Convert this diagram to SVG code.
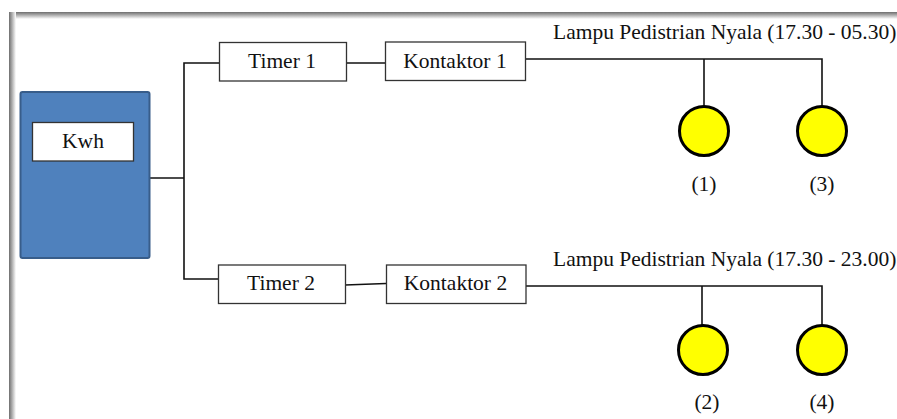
<svg xmlns="http://www.w3.org/2000/svg" width="897" height="419" viewBox="0 0 897 419">
<defs>
<linearGradient id="gTop" x1="0" y1="0" x2="0" y2="1"><stop offset="0" stop-color="#6e6e6e"/><stop offset="0.35" stop-color="#a0a0a0"/><stop offset="1" stop-color="#ffffff"/></linearGradient>
<linearGradient id="gLeft" x1="0" y1="0" x2="1" y2="0"><stop offset="0" stop-color="#6e6e6e"/><stop offset="0.35" stop-color="#a0a0a0"/><stop offset="1" stop-color="#ffffff"/></linearGradient>
<style>
.box{fill:#fff;stroke:#333;stroke-width:1.3}
.t{font-family:"Liberation Serif","Times New Roman",serif;font-size:21.5px;fill:#111}
.c{text-anchor:middle}
.w{fill:none;stroke:#111;stroke-width:1.6}
.lamp{fill:#FFFF00;stroke:#000;stroke-width:3}
</style>
</defs>
<rect width="897" height="419" fill="#fff"/>
<g id="frame">
<rect x="10" y="12" width="887" height="7" fill="url(#gTop)"/>
<rect x="9" y="12" width="7" height="407" fill="url(#gLeft)"/>
</g>
<g id="connectors">
<polyline class="w" points="150,178 184,178"/>
<polyline class="w" points="219,63 184,63 184,279 219,279"/>
<line class="w" x1="346" y1="63" x2="385" y2="63"/>
<line class="w" x1="345" y1="285" x2="386" y2="283.5"/>
<polyline class="w" points="525,59 822,59 822,107"/>
<line class="w" x1="704" y1="59" x2="704" y2="107"/>
<polyline class="w" points="526,286 822,286 822,326"/>
<line class="w" x1="702" y1="286" x2="702" y2="326"/>
</g>
<g id="kwh">
<rect x="20.5" y="92" width="129" height="166" rx="2" fill="#4F81BD" stroke="#385D8A" stroke-width="2"/>
<rect class="box" x="32.5" y="122.5" width="101" height="38.5"/>
<text class="t c" x="83" y="148">Kwh</text>
</g>
<g id="timer1">
<rect class="box" x="219.5" y="42.5" width="127" height="38.5"/>
<text class="t c" x="282" y="68">Timer 1</text>
</g>
<g id="kontaktor1">
<rect class="box" x="385.5" y="42" width="140" height="38.5"/>
<text class="t c" x="455" y="68">Kontaktor 1</text>
</g>
<g id="timer2">
<rect class="box" x="218.5" y="265" width="127" height="38.5"/>
<text class="t c" x="281" y="290">Timer 2</text>
</g>
<g id="kontaktor2">
<rect class="box" x="386.5" y="265" width="139.5" height="38.5"/>
<text class="t c" x="455.5" y="290">Kontaktor 2</text>
</g>
<g id="title1"><text class="t" x="553" y="39">Lampu Pedistrian Nyala (17.30 - 05.30)</text></g>
<g id="title2"><text class="t" x="553" y="266">Lampu Pedistrian Nyala (17.30 - 23.00)</text></g>
<g id="lamp1"><circle class="lamp" cx="704" cy="131" r="24.5"/><text class="t c" x="704" y="191">(1)</text></g>
<g id="lamp3"><circle class="lamp" cx="822" cy="131" r="24.5"/><text class="t c" x="822" y="191">(3)</text></g>
<g id="lamp2"><circle class="lamp" cx="703" cy="350" r="24.5"/><text class="t c" x="707" y="409">(2)</text></g>
<g id="lamp4"><circle class="lamp" cx="822" cy="350" r="24.5"/><text class="t c" x="822" y="409">(4)</text></g>
</svg>
